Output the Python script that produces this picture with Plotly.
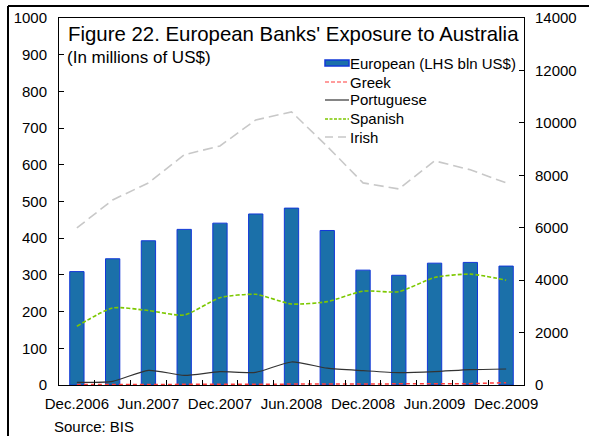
import plotly.graph_objects as go

categories = ["Dec.2006", "Mar.2007", "Jun.2007", "Sep.2007", "Dec.2007", "Mar.2008",
              "Jun.2008", "Sep.2008", "Dec.2008", "Mar.2009", "Jun.2009", "Sep.2009", "Dec.2009"]
tick_labels = ["Dec.2006", "", "Jun.2007", "", "Dec.2007", "", "Jun.2008", "",
               "Dec.2008", "", "Jun.2009", "", "Dec.2009"]
european = [309, 344, 393, 424, 441, 466, 482, 421, 313, 299, 332, 334, 324]
greek = [15, 20, 20, 25, 25, 25, 30, 30, 35, 40, 70, 50, 90]
portuguese = [102, 140, 560, 370, 509, 483, 878, 640, 547, 471, 509, 585, 611]
spanish = [2240, 2940, 2840, 2670, 3330, 3460, 3090, 3180, 3580, 3560, 4100, 4230, 4000]
irish = [5990, 7060, 7710, 8780, 9120, 10110, 10420, 9100, 7710, 7480, 8550, 8210, 7710]

FONT = "Liberation Sans, Arial, sans-serif"
BAR_FILL = "#1B70A9"
BAR_EDGE = "#1238D8"
GREEK_C = "#FF3B3B"
PORT_C = "#333333"
SPAN_C = "#7DC800"
IRISH_C = "#C8C8C8"

# plot area in pixels
L, R, T, B = 59, 524, 18, 385
W, H = 589, 436


def px(x):
    return (x - L) / (R - L)


def py(y):
    return (B - y) / (B - T)


fig = go.Figure()
fig.add_trace(go.Bar(
    x=categories, y=european, name="European (LHS bln US$)",
    marker=dict(color=BAR_FILL, line=dict(color=BAR_EDGE, width=1)),
    yaxis="y"))
fig.add_trace(go.Scatter(
    x=categories, y=greek, name="Greek", mode="lines",
    line=dict(color=GREEK_C, width=1.5, dash="4px,3px"), yaxis="y2"))
fig.add_trace(go.Scatter(
    x=categories, y=portuguese, name="Portuguese", mode="lines",
    line=dict(color=PORT_C, width=1.2, shape="spline", smoothing=0.6), yaxis="y2"))
fig.add_trace(go.Scatter(
    x=categories, y=spanish, name="Spanish", mode="lines",
    line=dict(color=SPAN_C, width=1.6, dash="4px,2px", shape="spline", smoothing=0.6), yaxis="y2"))
fig.add_trace(go.Scatter(
    x=categories, y=irish, name="Irish", mode="lines",
    line=dict(color=IRISH_C, width=1.6, dash="10px,5px"), yaxis="y2"))

fig.update_layout(
    width=W, height=H,
    margin=dict(l=L, r=W - R, t=T, b=H - B, autoexpand=False),
    paper_bgcolor="white", plot_bgcolor="white",
    font=dict(family=FONT, size=15, color="black"),
    bargap=0.6,
    showlegend=False,
    xaxis=dict(
        type="category", tickmode="array", tickvals=categories, ticktext=tick_labels,
        tickson="boundaries", ticks="inside", ticklen=5, tickcolor="black", tickwidth=1,
        showline=True, linecolor="black", linewidth=1, mirror=True,
        showgrid=False, zeroline=False, tickfont=dict(size=15), tickangle=0,
        ticklabelstandoff=5, automargin=False),
    yaxis=dict(
        range=[0, 1000], dtick=100, ticks="inside", ticklen=5, tickcolor="black",
        showline=True, linecolor="black", linewidth=1, showgrid=False, zeroline=False,
        tickfont=dict(size=15), ticklabelstandoff=8, automargin=False),
    yaxis2=dict(
        range=[0, 14000], dtick=2000, overlaying="y", side="right", ticks="inside",
        ticklen=5, tickcolor="black", showline=True, linecolor="black", linewidth=1,
        showgrid=False, zeroline=False, tickfont=dict(size=15), tickformat="d",
        ticklabelstandoff=7, automargin=False),
)

fig.add_annotation(text="Figure 22. European Banks' Exposure to Australia",
                   xref="paper", yref="paper", x=px(66), y=py(34),
                   xanchor="left", yanchor="middle", showarrow=False,
                   font=dict(family=FONT, size=20.4, color="black"))
fig.add_annotation(text="(In millions of US$)",
                   xref="paper", yref="paper", x=px(65), y=py(57),
                   xanchor="left", yanchor="middle", showarrow=False,
                   font=dict(family=FONT, size=17, color="black"))
fig.add_annotation(text="Source: BIS",
                   xref="paper", yref="paper", x=px(52), y=py(427),
                   xanchor="left", yanchor="middle", showarrow=False,
                   font=dict(family=FONT, size=15, color="black"))

# manual legend
legend_names = ["European (LHS bln US$)", "Greek", "Portuguese", "Spanish", "Irish"]
legend_y = [63, 82, 100, 119, 137]
sx0, sx1 = 325, 349
fig.add_shape(type="rect", xref="paper", yref="paper",
              x0=px(sx0), x1=px(sx1), y0=py(66), y1=py(60),
              fillcolor=BAR_FILL, line=dict(color=BAR_EDGE, width=1.5))
line_styles = [None,
               dict(color=GREEK_C, width=1.2, dash="4px,2px"),
               dict(color=PORT_C, width=1.2),
               dict(color=SPAN_C, width=1.5, dash="3px,1.5px"),
               dict(color=IRISH_C, width=1.5, dash="8px,5px")]
for name, yy, ls in zip(legend_names, legend_y, line_styles):
    if ls is not None:
        fig.add_shape(type="line", xref="paper", yref="paper",
                      x0=px(sx0), x1=px(sx1), y0=py(yy), y1=py(yy), line=ls)
    fig.add_annotation(text=name, xref="paper", yref="paper", x=px(348), y=py(yy),
                       xanchor="left", yanchor="middle", showarrow=False,
                       font=dict(family=FONT, size=15, color="black"))

# outer frame (left and top edges visible)
fx = px(8)
fy = py(6)
fig.add_shape(type="line", xref="paper", yref="paper", x0=fx, x1=fx, y0=fy, y1=-0.5,
              line=dict(color="black", width=2))
fig.add_shape(type="line", xref="paper", yref="paper", x0=fx, x1=1.5, y0=fy, y1=fy,
              line=dict(color="black", width=2))

fig.write_html("out.html", config={"displayModeBar": False},
               post_script="document.body.style.margin='0px';")
